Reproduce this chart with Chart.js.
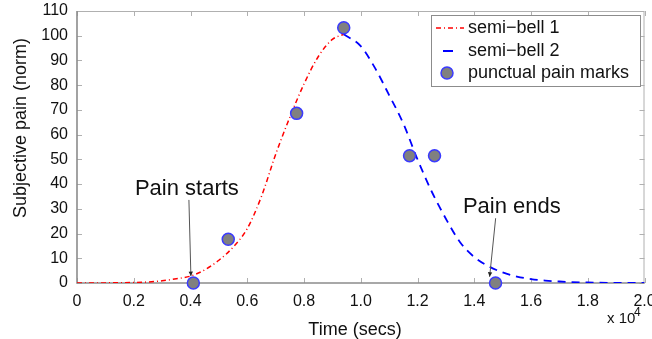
<!DOCTYPE html>
<html>
<head>
<meta charset="utf-8">
<script src="https://cdn.jsdelivr.net/npm/chart.js@4.4.0/dist/chart.umd.min.js"></script>
<style>
  html, body { margin: 0; padding: 0; background: #fff; }
  canvas { display: block; }
</style>
</head>
<body>
<canvas id="painChart" width="652" height="339"></canvas>
<script>
// values (time in seconds, pain normalised)
const bell1Time = [0, 1000, 2000, 2500, 3000, 3500, 4000, 4500, 5000, 5500, 6000, 6500, 7000, 7500, 8000, 8500, 9000, 9400];
const bell1Pain = [0, 0.05, 0.2, 0.4, 0.9, 1.7, 2.8, 5.3, 9.2, 14.5, 22, 35, 52, 67, 80.5, 91.5, 98.5, 100.6];

const bell2Time = [9400, 10000, 10500, 11000, 11500, 12000, 12500, 13000, 13500, 14000, 14500, 15000, 15500, 16000, 16500, 17000, 18000, 19000, 20000];
const bell2Pain = [100.6, 95.8, 87, 76, 64.5, 50, 37, 26, 16.5, 10.5, 6.8, 4.3, 2.6, 1.6, 1, 0.6, 0.2, 0.05, 0];

const markTime = [4100, 5330, 7740, 9400, 11720, 12600, 14750];
const markPain = [0, 17.7, 68.6, 103.2, 51.5, 51.5, 0];

const seriesNames = ['semi\u2212bell 1', 'semi\u2212bell 2', 'punctual pain marks'];

// annotations, in data coordinates
const noteTexts = ['Pain starts', 'Pain ends'];
const noteAt = [[2040, 35.6], [13600, 28.3]];
const arrowFrom = [[3944, 33.6], [14754, 26.2]];
const arrowTo = [[4014, 2.8], [14542, 2.5]];

const FONT = '"Liberation Sans", Arial, Helvetica, sans-serif';

const toPoints = (xs, ys) => xs.map((v, i) => ({ x: v, y: ys[i] }));

const matlabFrame = {
    id: 'matlabFrame',
    beforeDatasetsDraw(chart) {
        const { ctx, chartArea: a, scales: { x, y } } = chart;
        ctx.save();
        // top and right sides of the box
        ctx.strokeStyle = '#b0b0b0';
        ctx.lineWidth = 1;
        ctx.beginPath();
        ctx.moveTo(a.left, a.top + 0.5);
        ctx.lineTo(a.right - 0.5, a.top + 0.5);
        ctx.lineTo(a.right - 0.5, a.bottom);
        ctx.stroke();
        // inward tick marks
        ctx.beginPath();
        x.ticks.forEach(t => {
            const px = Math.round(x.getPixelForValue(t.value)) + 0.5;
            ctx.moveTo(px, a.bottom); ctx.lineTo(px, a.bottom - 5);
            ctx.moveTo(px, a.top); ctx.lineTo(px, a.top + 5);
        });
        y.ticks.forEach(t => {
            const py = Math.round(y.getPixelForValue(t.value)) + 0.5;
            ctx.moveTo(a.left, py); ctx.lineTo(a.left + 5, py);
            ctx.moveTo(a.right, py); ctx.lineTo(a.right - 5, py);
        });
        ctx.stroke();
        // left and bottom axes
        ctx.strokeStyle = '#8c8c8c';
        ctx.lineWidth = 1.6;
        ctx.beginPath();
        ctx.moveTo(a.left, a.top);
        ctx.lineTo(a.left, a.bottom);
        ctx.lineTo(a.right, a.bottom);
        ctx.stroke();
        ctx.restore();
    },
    afterDraw(chart) {
        const { ctx, scales: { x, y } } = chart;
        ctx.save();
        ctx.fillStyle = '#111';

        // axis titles
        ctx.font = '18px ' + FONT;
        ctx.textAlign = 'center';
        ctx.textBaseline = 'alphabetic';
        ctx.fillText('Time (secs)', 355, 335);
        ctx.save();
        ctx.translate(26, 128);
        ctx.rotate(-Math.PI / 2);
        ctx.fillText('Subjective pain (norm)', 0, 0);
        ctx.restore();

        // x 10^4 multiplier
        ctx.textAlign = 'left';
        ctx.font = '15px ' + FONT;
        ctx.fillText('x 10', 607, 323);
        ctx.font = '12px ' + FONT;
        ctx.fillText('4', 634, 316);

        // annotations with arrows
        ctx.font = '22px ' + FONT;
        noteTexts.forEach((txt, i) => {
            ctx.fillStyle = '#111';
            ctx.fillText(txt, x.getPixelForValue(noteAt[i][0]), y.getPixelForValue(noteAt[i][1]));
            const x0 = x.getPixelForValue(arrowFrom[i][0]), y0 = y.getPixelForValue(arrowFrom[i][1]);
            const x1 = x.getPixelForValue(arrowTo[i][0]), y1 = y.getPixelForValue(arrowTo[i][1]);
            ctx.strokeStyle = '#555';
            ctx.lineWidth = 1;
            ctx.beginPath();
            ctx.moveTo(x0, y0);
            ctx.lineTo(x1, y1);
            ctx.stroke();
            const ang = Math.atan2(y1 - y0, x1 - x0);
            ctx.fillStyle = '#222';
            ctx.beginPath();
            ctx.moveTo(x1, y1);
            ctx.lineTo(x1 - 5 * Math.cos(ang - 0.45), y1 - 5 * Math.sin(ang - 0.45));
            ctx.lineTo(x1 - 5 * Math.cos(ang + 0.45), y1 - 5 * Math.sin(ang + 0.45));
            ctx.closePath();
            ctx.fill();
        });

        // legend box
        const lx = 431, ly = 15, lw = 209, lh = 71;
        ctx.fillStyle = '#fff';
        ctx.fillRect(lx, ly, lw, lh);
        ctx.strokeStyle = '#8c8c8c';
        ctx.lineWidth = 1;
        ctx.strokeRect(lx + 0.5, ly + 0.5, lw, lh);
        const rows = [28, 51, 73];
        ctx.lineWidth = 1.5;
        ctx.strokeStyle = '#ff0000';
        ctx.setLineDash([5, 3, 1, 3]);
        ctx.beginPath(); ctx.moveTo(436, rows[0]); ctx.lineTo(464, rows[0]); ctx.stroke();
        ctx.setLineDash([]);
        ctx.strokeStyle = '#0000ff';
        ctx.lineWidth = 2;
        ctx.beginPath(); ctx.moveTo(443, rows[1]); ctx.lineTo(453, rows[1]); ctx.stroke();
        ctx.fillStyle = '#808080';
        ctx.strokeStyle = '#3a3aff';
        ctx.lineWidth = 1.5;
        ctx.beginPath(); ctx.arc(447, rows[2], 6, 0, Math.PI * 2); ctx.fill(); ctx.stroke();
        ctx.fillStyle = '#111';
        ctx.font = '18px ' + FONT;
        ctx.textBaseline = 'middle';
        seriesNames.forEach((name, i) => ctx.fillText(name, 468, rows[i]));
        ctx.restore();
    }
};

const ctx = document.getElementById('painChart').getContext('2d');
new Chart(ctx, {
    type: 'line',
    data: {
        datasets: [{
            label: seriesNames[0],
            data: toPoints(bell1Time, bell1Pain),
            borderColor: '#ff0000',
            borderWidth: 1.5,
            borderDash: [5, 3, 1, 3],
            pointRadius: 0,
            cubicInterpolationMode: 'monotone',
            fill: false,
            order: 3
        }, {
            label: seriesNames[1],
            data: toPoints(bell2Time, bell2Pain),
            borderColor: '#0000ff',
            borderWidth: 1.8,
            borderDash: [8, 6],
            pointRadius: 0,
            cubicInterpolationMode: 'monotone',
            fill: false,
            order: 2
        }, {
            label: seriesNames[2],
            type: 'scatter',
            data: toPoints(markTime, markPain),
            showLine: false,
            backgroundColor: '#808080',
            borderColor: '#3a3aff',
            borderWidth: 1.5,
            pointRadius: 6,
            clip: false,
            order: 1
        }]
    },
    options: {
        responsive: false,
        animation: false,
        devicePixelRatio: 1,
        layout: { padding: { top: 11, right: 7, left: 0, bottom: 0 } },
        plugins: {
            legend: { display: false },
            tooltip: { enabled: false }
        },
        scales: {
            x: {
                type: 'linear',
                min: 0,
                max: 20000,
                grid: { display: false, drawTicks: false },
                border: { display: false },
                afterFit: scale => {
                    scale.height = 56;
                    scale.paddingLeft = 0;
                    scale.paddingRight = 0;
                },
                ticks: {
                    stepSize: 2000,
                    padding: 9,
                    color: '#111',
                    font: { family: FONT, size: 16 },
                    maxRotation: 0,
                    callback: v => v === 0 ? '0' : (v / 10000).toFixed(1)
                }
            },
            y: {
                min: 0,
                max: 110,
                grid: { display: false, drawTicks: false },
                border: { display: false },
                afterFit: scale => {
                    scale.width = 77;
                    scale.paddingTop = 0;
                    scale.paddingBottom = 0;
                },
                ticks: {
                    stepSize: 10,
                    padding: 9,
                    color: '#111',
                    font: { family: FONT, size: 16 }
                }
            }
        }
    },
    plugins: [matlabFrame]
});
</script>
</body>
</html>
